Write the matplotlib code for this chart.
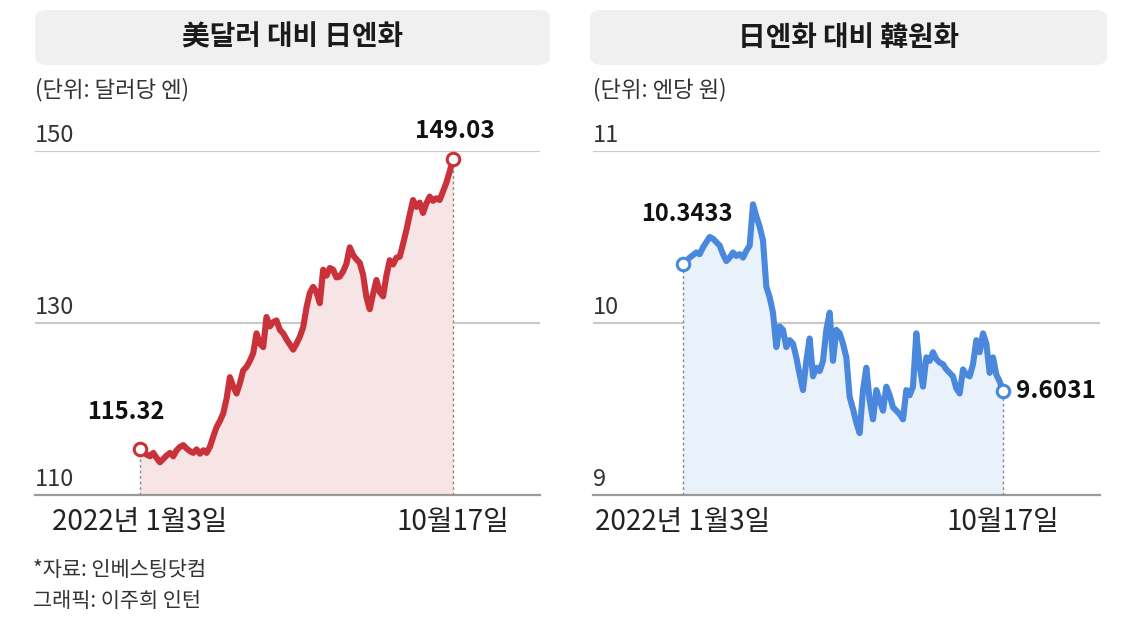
import matplotlib
matplotlib.use("Agg")
import matplotlib.pyplot as plt
from matplotlib.patches import FancyBboxPatch
import matplotlib.transforms as mtransforms

plt.rcParams['font.family'] = ['Noto Sans CJK KR', 'DejaVu Sans']

# ---- data ----
titles = ["美달러 대비 日엔화", "日엔화 대비 韓원화"]
units = ["(단위: 달러당 엔)", "(단위: 엔당 원)"]
date_labels = ["2022년 1월3일", "10월17일"]
left_ticks = [110, 130, 150]
right_ticks = [9, 10, 11]
left_tick_labels = ["110", "130", "150"]
right_tick_labels = ["9", "10", "11"]

usd_jpy = [115.32, 115.0, 114.7, 114.5, 114.9, 114.3, 113.8, 114.2, 114.6, 114.9,
           114.5, 115.2, 115.6, 115.8, 115.4, 115.1, 114.9, 115.3, 114.8, 115.2,
           114.9, 115.6, 116.8, 117.9, 118.6, 119.5, 121.2, 123.7, 122.6, 121.8,
           123.0, 124.5, 124.9, 125.6, 126.5, 128.8, 127.6, 127.2, 130.7, 129.6,
           130.1, 130.3, 129.2, 128.8, 128.1, 127.5, 126.9, 127.6, 128.4, 129.5,
           131.8, 133.5, 134.2, 133.6, 132.3, 136.2, 135.5, 136.4, 136.2, 135.3,
           135.4, 136.0, 136.9, 138.8, 137.9, 137.4, 137.0, 135.6, 133.0, 131.6,
           133.4, 135.0, 133.6, 133.1, 135.5, 137.3, 136.8, 137.6, 137.7, 139.2,
           140.8, 142.6, 144.3, 143.5, 144.0, 142.8, 143.9, 144.7, 144.2, 144.5,
           144.3, 145.3, 146.3, 147.6, 149.03]

jpy_krw = [10.3433, 10.36, 10.38, 10.395, 10.41, 10.40, 10.44, 10.47, 10.50, 10.49,
           10.47, 10.45, 10.40, 10.36, 10.38, 10.41, 10.39, 10.40, 10.38, 10.42,
           10.45, 10.69, 10.62, 10.56, 10.48, 10.21, 10.15, 10.06, 9.86, 9.98,
           9.96, 9.86, 9.90, 9.88, 9.80, 9.70, 9.61, 9.78, 9.91, 9.69,
           9.74, 9.72, 9.78, 9.96, 10.06, 9.78, 9.96, 9.94, 9.88, 9.80,
           9.57, 9.50, 9.42, 9.36, 9.61, 9.74, 9.55, 9.44, 9.61, 9.55,
           9.49, 9.63, 9.58, 9.51, 9.49, 9.47, 9.44, 9.61, 9.58, 9.63,
           9.94, 9.75, 9.63, 9.80, 9.78, 9.83, 9.79, 9.77, 9.76, 9.73,
           9.71, 9.69, 9.62, 9.59, 9.73, 9.70, 9.69, 9.76, 9.90, 9.83,
           9.94, 9.88, 9.71, 9.80, 9.70, 9.66, 9.6031]

start_labels = ["115.32", "10.3433"]
end_labels = ["149.03", "9.6031"]

W, H = 1122, 626
fig = plt.figure(figsize=(W / 100, H / 100), dpi=100)


def px_rect(x0, y0, x1, y1):
    return [x0 / W, 1 - y1 / H, (x1 - x0) / W, (y1 - y0) / H]


def panel(ax_px, box_px, series, ticks, tick_labels, color, fill, title, unit,
          x_start_px, x_end_px, s_lab, e_lab, s_off, e_off, unit_x):
    x0, x1 = ax_px[0], ax_px[2]
    n = len(series)
    ppu = (x_end_px - x_start_px) / (n - 1)
    xl = -(x_start_px - x0) / ppu
    xr = (n - 1) + (x1 - x_end_px) / ppu
    ax = fig.add_axes(px_rect(*ax_px))
    xs = list(range(n))
    lo, hi = ticks[0], ticks[-1]
    ax.set_xlim(xl, xr)
    ax.set_ylim(lo, hi)
    ax.fill_between(xs, series, lo, color=fill, lw=0, zorder=1)
    for t in ticks[1:]:
        ax.axhline(t, color="#c9c9c9", lw=1.6, zorder=0)
    ax.axhline(lo, color="#9a9a9a", lw=1.6, zorder=2, clip_on=False)
    ax.plot(xs, series, color=color, lw=4.4, solid_joinstyle="round",
            solid_capstyle="round", zorder=3)
    for i in (0, n - 1):
        ax.vlines(i, lo, series[i], colors="#8a8a8a", linestyles=(0, (2, 2)),
                  lw=1.0, zorder=2)
    ax.plot([0, n - 1], [series[0], series[-1]], 'o', ms=9, mfc="white",
            mec=color, mew=2.2, zorder=5, clip_on=False)
    for sp in ax.spines.values():
        sp.set_visible(False)
    ax.set_xticks([])
    ax.set_yticks([])
    trans = mtransforms.blended_transform_factory(ax.transAxes, ax.transData)
    for t, lab in zip(ticks, tick_labels):
        ax.annotate(lab, (0.0, t), xycoords=trans, xytext=(0, 9),
                    textcoords="offset pixels", ha="left", va="baseline",
                    fontsize=17, color="#333333")
    # value labels
    ax.annotate(s_lab, (0, series[0]), xytext=s_off, textcoords="offset pixels",
                ha="center", va="center", fontsize=17, fontweight="bold",
                color="#111111", zorder=6)
    ax.annotate(e_lab, (n - 1, series[-1]), xytext=e_off, textcoords="offset pixels",
                ha="center", va="center", fontsize=17.5, fontweight="bold",
                color="#111111", zorder=6)
    # title box
    bx0, by0, bx1, by1 = box_px
    box = FancyBboxPatch((bx0 / W, 1 - by1 / H), (bx1 - bx0) / W, (by1 - by0) / H,
                         boxstyle="round,pad=0,rounding_size=0.012",
                         transform=fig.transFigure, facecolor="#f0f0f0",
                         edgecolor="none")
    fig.patches.append(box)
    fig.text((bx0 + bx1) / 2 / W, 1 - (by0 + by1) / 2 / H, title, ha="center",
             va="center", fontsize=20, fontweight="bold", color="#1a1a1a")
    fig.text(unit_x / W, 1 - 90 / H, unit, ha="left", va="center",
             fontsize=16, color="#333333")
    # date labels
    fig.text(x_start_px / W, 1 - 522 / H, date_labels[0], ha="center", va="center",
             fontsize=20, color="#222222")
    fig.text(x_end_px / W, 1 - 522 / H, date_labels[1], ha="center", va="center",
             fontsize=20, color="#222222")
    return ax


panel((35, 151, 540, 495), (35, 10, 550, 65), usd_jpy, left_ticks, left_tick_labels,
      "#c9323b", "#f7e4e4", titles[0], units[0], 140, 453,
      start_labels[0], end_labels[0], (-14, 37), (2, 28), 35)
panel((593, 151, 1100, 495), (590, 10, 1107, 65), jpy_krw, right_ticks, right_tick_labels,
      "#4a88dd", "#e9f1fb", titles[1], units[1], 683, 1003,
      start_labels[1], end_labels[1], (4, 50), (53, 0), 593)

fig.text(33 / W, 1 - 570 / H, "*자료: 인베스팅닷컴", ha="left", va="center",
         fontsize=15, color="#333333")
fig.text(33 / W, 1 - 601 / H, "그래픽: 이주희 인턴", ha="left", va="center",
         fontsize=15, color="#333333")

fig.savefig("out.png", dpi=100, facecolor="white")
